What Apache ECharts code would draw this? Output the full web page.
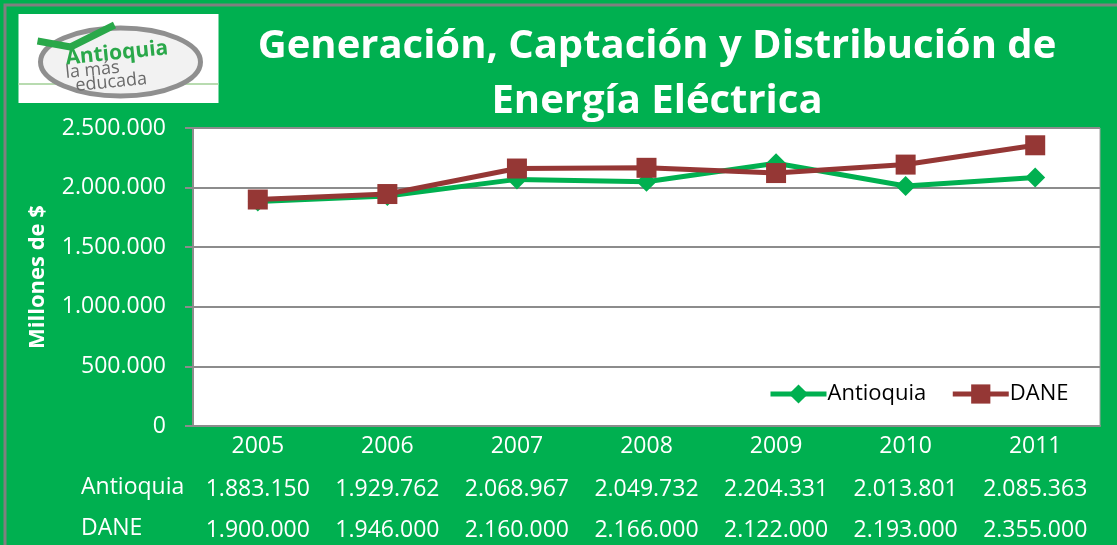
<!DOCTYPE html>
<html>
<head>
<meta charset="utf-8">
<script src="https://cdn.jsdelivr.net/npm/echarts@6/dist/echarts.min.js"></script>
<style>
html, body { margin: 0; padding: 0; background: #fff; }
#chart { width: 1117px; height: 545px; }
</style>
</head>
<body>
<div id="chart"></div>
<script>
// datos
var years = ['2005', '2006', '2007', '2008', '2009', '2010', '2011'];
var antioquia = [1883150, 1929762, 2068967, 2049732, 2204331, 2013801, 2085363];
var dane = [1900000, 1946000, 2160000, 2166000, 2122000, 2193000, 2355000];
var yTicks = [0, 500000, 1000000, 1500000, 2000000, 2500000];

var FONT = 'Open Sans';
var GREEN = '#00B050';
var RED = '#953735';

// miles con punto
function fmt(v) {
	return String(v).replace(/\B(?=(\d{3})+(?!\d))/g, '.');
}

function tableAxis(values, offset) {
	return {
		type : 'category',
		data : years,
		position : 'bottom',
		offset : offset,
		axisLine : { show : false },
		axisTick : { show : false },
		axisLabel : {
			interval : 0,
			hideOverlap : false,
			color : '#fff',
			fontFamily : FONT,
			fontSize : 23,
			margin : 10,
			formatter : function(v, i) {
				return fmt(values[i]);
			}
		}
	};
}

var chart = echarts.init(document.getElementById('chart'));

var option = {
	backgroundColor : GREEN,
	animation : false,
	title : {
		text : 'Generación, Captación y Distribución de\nEnergía Eléctrica',
		left : 652,
		top : 14,
		textAlign : 'center',
		textStyle : {
			color : '#fff',
			fontFamily : FONT,
			fontWeight : 'bold',
			fontSize : 40,
			lineHeight : 55
		}
	},
	legend : {
		left : 763,
		top : 378,
		itemWidth : 56,
		itemHeight : 24,
		itemGap : 24,
		lineStyle : { width : 5 },
		textStyle : {
			color : '#000',
			fontFamily : FONT,
			fontSize : 22,
			padding : [0, 0, 0, -4]
		},
		data : ['Antioquia', 'DANE']
	},
	grid : {
		left : 193,
		right : 17,
		top : 128,
		bottom : 119,
		outerBoundsMode : 'none',
		show : true,
		backgroundColor : '#fff',
		borderColor : '#a0a0a0',
		borderWidth : 1
	},
	xAxis : [ {
		type : 'category',
		data : years,
		boundaryGap : true,
		axisLine : { show : true, lineStyle : { color : '#8c8c8c', width : 2 } },
		axisTick : { show : false },
		axisLabel : {
			interval : 0,
			color : '#fff',
			fontFamily : FONT,
			fontSize : 23,
			margin : 9
		}
	},
	tableAxis(antioquia, 42),
	tableAxis(dane, 83) ],
	yAxis : {
		type : 'value',
		min : yTicks[0],
		max : yTicks[yTicks.length - 1],
		interval : 500000,
		name : 'Millones de $',
		nameLocation : 'middle',
		nameGap : 144,
		nameTextStyle : {
			color : '#fff',
			fontFamily : FONT,
			fontWeight : 'bold',
			fontSize : 22
		},
		axisLine : { show : true, lineStyle : { color : '#8c8c8c', width : 2 } },
		axisTick : { show : true, length : 8, lineStyle : { color : '#8c8c8c', width : 2 } },
		splitLine : { lineStyle : { color : '#8c8c8c', width : 2 } },
		axisLabel : {
			color : '#fff',
			fontFamily : FONT,
			fontSize : 23,
			margin : 27,
			formatter : function(v) { return fmt(v); }
		}
	},
	series : [ {
		name : 'Antioquia',
		type : 'line',
		data : antioquia,
		symbol : 'diamond',
		symbolSize : 20,
		itemStyle : { color : GREEN },
		lineStyle : { color : GREEN, width : 5 }
	}, {
		name : 'DANE',
		type : 'line',
		data : dane,
		symbol : 'rect',
		symbolSize : 20,
		itemStyle : { color : RED },
		lineStyle : { color : RED, width : 5 }
	} ],
	graphic : [
		// marco
		{ type : 'rect', shape : { x : 5, y : 5, width : 1200, height : 600 },
		  style : { fill : 'none', stroke : '#808080', lineWidth : 3 }, z : 100 },
		// etiquetas de la tabla
		{ type : 'text', left : 81, top : 476,
		  style : { text : 'Antioquia', fill : '#fff', font : '23px "Open Sans"' } },
		{ type : 'text', left : 81, top : 517,
		  style : { text : 'DANE', fill : '#fff', font : '23px "Open Sans"' } },
		// logo
		{ type : 'group', left : 16, top : 14, children : [
			{ type : 'rect', shape : { x : 0, y : 0, width : 200, height : 89 }, style : { fill : '#fff' } },
			{ type : 'line', shape : { x1 : 0, y1 : 70, x2 : 200, y2 : 70 }, style : { stroke : '#b8dbb0', lineWidth : 2 } },
			{ type : 'ellipse', shape : { cx : 102, cy : 48, rx : 80, ry : 34 },
			  style : { fill : '#f2f2f2', stroke : '#8f8f8f', lineWidth : 5 } },
			{ type : 'polyline', shape : { points : [[19, 27], [52, 33], [96, 11]] },
			  style : { stroke : '#2aa84a', lineWidth : 7, fill : 'none', lineJoin : 'round' } },
			{ type : 'text', x : 46, y : 34, rotation : 0.1,
			  style : { text : 'Antioquia', fill : '#2aa84a', font : 'bold 21px "Open Sans"' } },
			{ type : 'text', x : 46, y : 50, rotation : 0.1,
			  style : { text : 'la más', fill : '#6a6a6a', font : '18px "Open Sans"' } },
			{ type : 'text', x : 56, y : 63, rotation : 0.1,
			  style : { text : 'educada', fill : '#6a6a6a', font : '18px "Open Sans"' } }
		] }
	]
};

chart.setOption(option);
</script>
</body>
</html>
